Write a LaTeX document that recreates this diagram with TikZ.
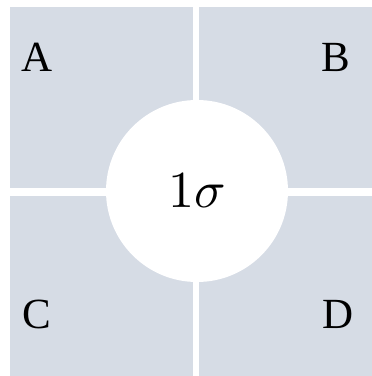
\documentclass[tikz,border=0pt]{standalone}
\usepackage{fontspec}
\setmainfont{Liberation Serif}
\usepackage{tikz}
\usetikzlibrary{positioning}
\definecolor{quadfill}{HTML}{D6DCE5}

\begin{document}
\begin{tikzpicture}[
  x=1pt,y=-1pt,
  quad/.style={rectangle,fill=quadfill,draw=none,inner sep=0pt,anchor=north west},
  lbl/.style={font=\fontsize{43}{46}\selectfont,inner sep=0pt},
  core/.style={circle,fill=white,draw=none,minimum size=182pt,inner sep=0pt}
]
\useasboundingbox (0,0) rectangle (372,376);
% Quadrants
\node[quad,minimum width=183pt,minimum height=181pt] (QA) at (10,7) {};
\node[quad,minimum width=173pt,minimum height=181pt] (QB) at (199,7) {};
\node[quad,minimum width=183pt,minimum height=180pt] (QC) at (10,196) {};
\node[quad,minimum width=173pt,minimum height=180pt] (QD) at (199,196) {};
% Centre
\node[core] (S) at (197,191) {\scalebox{5.2}{$1\sigma$}};
% labels
\node[lbl] (LA) at (37,57) {A};
\node[lbl] (LB) at (336,57) {B};
\node[lbl] (LC) at (37,314) {C};
\node[lbl] (LD) at (338,314) {D};
\end{tikzpicture}
\end{document}
